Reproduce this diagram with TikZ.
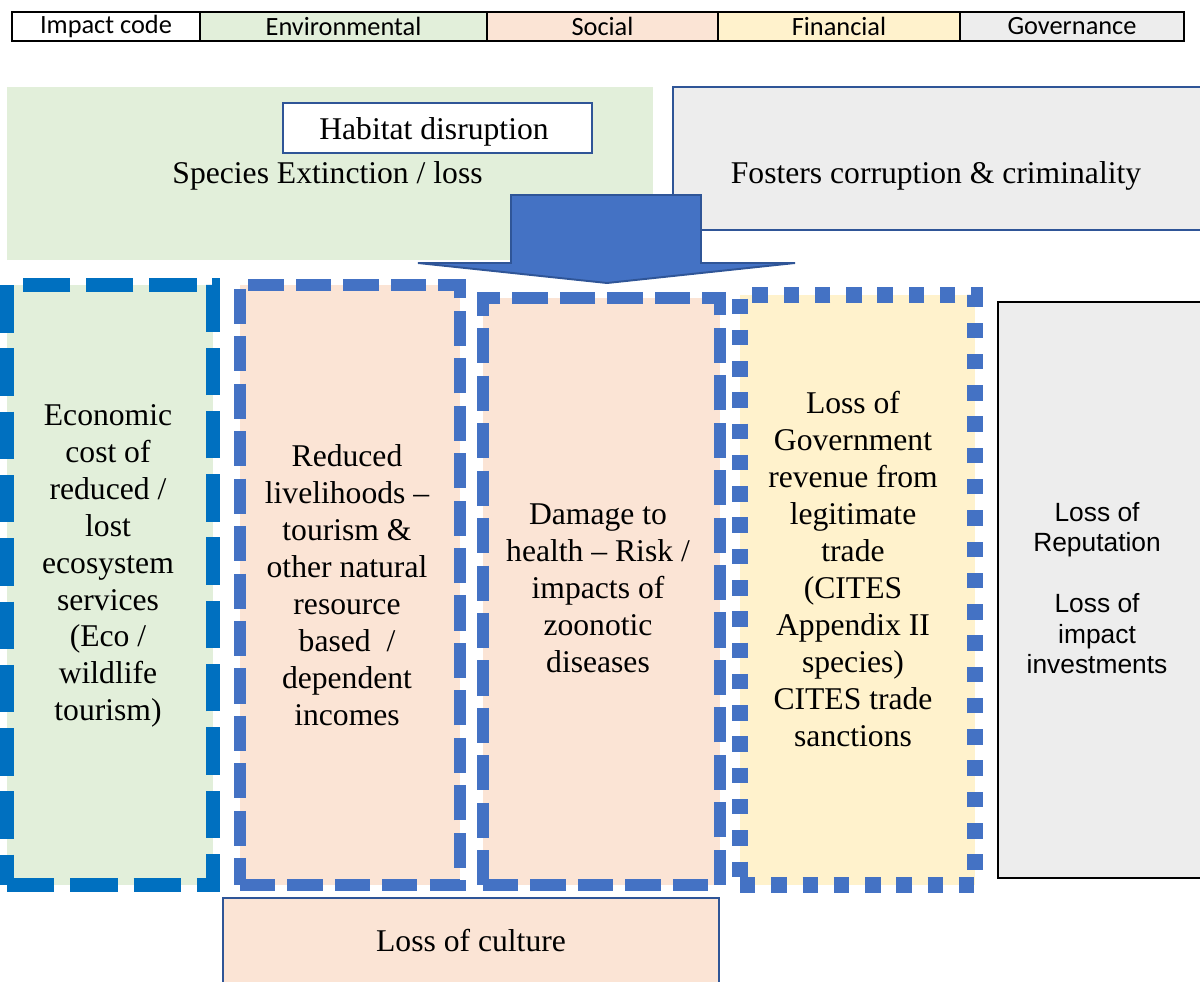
\documentclass[tikz,border=0pt]{standalone}
\usepackage{fontspec}
\setmainfont{Liberation Serif}
\newfontfamily\legendfont{Carlito}
\newfontfamily\govfont{Liberation Sans}
\usepackage{xcolor}
\usepackage{tikz}
\usetikzlibrary{positioning}
\definecolor{envgreen}{HTML}{E2EFDA}
\definecolor{socpink}{HTML}{FBE4D5}
\definecolor{finyellow}{HTML}{FFF2CC}
\definecolor{govgrey}{HTML}{EDEDED}
\definecolor{dashblue}{HTML}{4472C4}
\definecolor{deepblue}{HTML}{0070C0}
\definecolor{edgeblue}{HTML}{2F5597}

\begin{document}
\begin{tikzpicture}[
    legendcell/.style={rectangle, draw=black, line width=1.1pt, outer sep=0pt, inner sep=0pt, minimum height=0.58cm, font=\legendfont\fontsize{15}{18}\selectfont},
    plainbox/.style={rectangle, inner sep=0pt, outer sep=0pt},
    framebox/.style={plainbox, draw=edgeblue, line width=1.1pt, font=\fontsize{18}{21}\selectfont},
    dashbox/.style={plainbox, draw=dashblue, line width=6.8pt, dash pattern=on 20pt off 7pt},
    dotbox/.style={plainbox, draw=dashblue, line width=9pt, dash pattern=on 8.8pt off 9pt},
    coltext/.style={align=center, font=\fontsize{18}{21}\selectfont},
    govtext/.style={align=center, font=\govfont\fontsize{15}{17.3}\selectfont},
    blockarrow/.style={fill=dashblue, draw=edgeblue, line width=1.1pt, line join=miter}
]
    \useasboundingbox (0,0) rectangle (24,-19.62);
    \clip (0,0) rectangle (24,-19.62);

    % Legend
    \node[legendcell, minimum width=3.76cm, anchor=west] (impact) at (0.24,-0.53) {Impact code};
    \node[legendcell, fill=envgreen, minimum width=5.74cm, right=0pt of impact] (env) {Environmental};
    \node[legendcell, fill=socpink, minimum width=4.62cm, right=0pt of env] (soc) {Social};
    \node[legendcell, fill=finyellow, minimum width=4.84cm, right=0pt of soc] (fin) {Financial};
    \node[legendcell, fill=govgrey, minimum width=4.48cm, right=0pt of fin] (gov) {Governance};

    % Top boxes
    \node[plainbox, fill=envgreen, minimum width=12.92cm, minimum height=3.46cm] (envtop) at (6.6,-3.47) {};
    \node[coltext] (species) at (6.55,-3.52) {Species Extinction / loss};
    \node[framebox, fill=white, minimum width=6.18cm, minimum height=1.0cm] (habitat) at (8.75,-2.56) {};
    \node[coltext] (habitattxt) at (8.68,-2.64) {Habitat disruption};
    \node[framebox, fill=govgrey, minimum width=10.59cm, minimum height=2.86cm] (govtop) at (18.755,-3.17) {};
    \node[coltext] (fosters) at (18.72,-3.52) {Fosters corruption \& criminality};

    % Impact columns
    \node[dashbox, draw=deepblue, line width=8.5pt, dash pattern=on 27pt off 9pt, fill=envgreen, minimum width=4.12cm, minimum height=12cm] (eco) at (2.2,-11.7) {};
    \node[coltext] (ecotxt) at (2.16,-11.32) {Economic\\cost of\\reduced /\\lost\\ecosystem\\services\\(Eco /\\wildlife\\tourism)};
    \node[dashbox, fill=socpink, minimum width=4.4cm, minimum height=12cm] (liveli) at (7.0,-11.7) {};
    \node[coltext] (livelitxt) at (6.94,-11.7) {Reduced\\livelihoods --\\tourism \&\\other natural\\resource\\based \ /\\dependent\\incomes};
    \node[dashbox, fill=socpink, minimum width=4.74cm, minimum height=11.74cm] (health) at (12.03,-11.83) {};
    \node[coltext] (healthtxt) at (11.96,-11.76) {Damage to\\health -- Risk /\\impacts of\\zoonotic\\diseases};
    \node[dotbox, fill=finyellow, minimum width=4.7cm, minimum height=11.8cm] (revenue) at (17.15,-11.8) {};
    \node[coltext] (revenuetxt) at (17.06,-11.38) {Loss of\\Government\\revenue from\\legitimate\\trade\\(CITES\\Appendix II\\species)\\CITES trade\\sanctions};
    \node[plainbox, draw=black, line width=1.1pt, fill=govgrey, minimum width=4.12cm, minimum height=11.52cm] (govright) at (22.02,-11.8) {};
    \node[govtext] (govtxt) at (21.94,-11.76) {Loss of\\Reputation\\[17.3pt]Loss of\\impact\\investments};

    % Bottom box
    \node[framebox, fill=socpink, minimum width=9.92cm, minimum height=1.7cm] (culture) at (9.42,-18.81) {Loss of culture};

    % Block arrow
    \draw[blockarrow] (10.22,-3.9) -- (14.02,-3.9) -- (14.02,-5.26) -- (15.9,-5.26) -- (12.14,-5.66) -- (8.36,-5.26) -- (10.22,-5.26) -- cycle;
\end{tikzpicture}
\end{document}
